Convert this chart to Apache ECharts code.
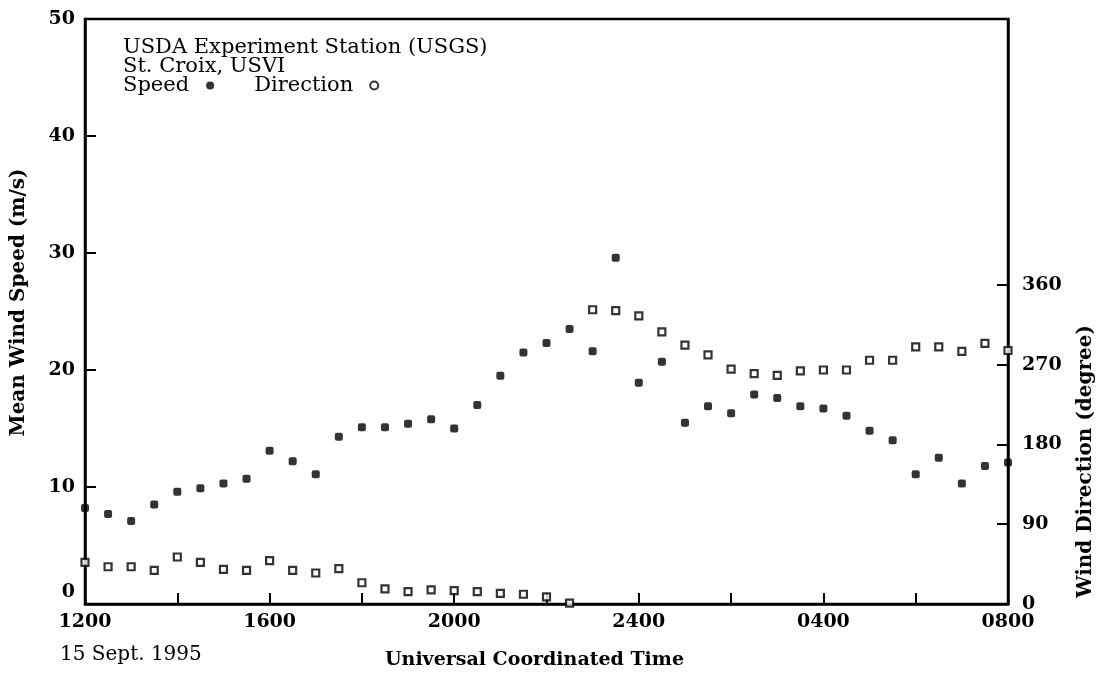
<!DOCTYPE html>
<html>
<head>
<meta charset="utf-8">
<script src="https://cdn.jsdelivr.net/npm/echarts@6/dist/echarts.min.js"></script>
<style>html,body{margin:0;padding:0;background:#fff}#c{width:1105px;height:677px}</style>
</head>
<body>
<div id="c"></div>
<script>
// Hours after 1200 UTC, 15 Sept. 1995 (half-hourly)
const hours = [0,0.5,1,1.5,2,2.5,3,3.5,4,4.5,5,5.5,6,6.5,7,7.5,8,8.5,9,9.5,10,10.5,11,11.5,12,12.5,13,13.5,14,14.5,15,15.5,16,16.5,17,17.5,18,18.5,19,19.5,20];
// Mean wind speed (m/s)
const speed = [8.2,7.7,7.1,8.5,9.6,9.9,10.3,10.7,13.1,12.2,11.1,14.3,15.1,
               15.1,15.4,15.8,15.0,17.0,19.5,21.5,22.3,23.5,21.6,29.6,18.9,20.7,15.5,16.9,16.3,
               17.9,17.6,16.9,16.7,16.1,14.8,14.0,11.1,12.5,10.3,11.8,12.1];
// Wind direction (degree)
const direction = [47,42,42,38,53,47,39,38,49,38,35,40,24,
                   17,14,16,15,14,12,11,8,1,332,331,325,307,292,281,265,
                   260,258,263,264,264,275,275,290,290,285,294,286];
// Tick labels
const timeTicks = [0,4,8,12,16,20];
const timeLabels = ["1200","1600","2000","2400","0400","0800"];
const dirTicks = [0,90,180,270,360];

const FONT = 'DejaVu Serif';
const speedData = hours.map((h,i)=>[h,speed[i]]);
const dirData = hours.map((h,i)=>[h,direction[i]]);

const chart = echarts.init(document.getElementById('c'), null, {renderer:'canvas'});
chart.setOption({
  backgroundColor:'#fff',
  animation:false,
  title:{
    text:'USDA Experiment Station (USGS)\nSt. Croix, USVI',
    left:123, top:38, padding:0,
    textStyle:{fontFamily:FONT, fontSize:21, fontWeight:'normal', color:'#000', lineHeight:19}
  },
  legend:{
    left:123, top:75, padding:0, align:'right', itemGap:40,
    itemWidth:8, itemHeight:8,
    textStyle:{fontFamily:FONT, fontSize:21, color:'#000', padding:[0,12,0,0]},
    data:[
      {name:'Speed', icon:'circle', itemStyle:{color:'#000'}},
      {name:'Direction', icon:'circle', itemStyle:{color:'#fff', borderColor:'#000', borderWidth:2}}
    ]
  },
  grid:{left:85, right:97, top:19, bottom:73, show:true, borderColor:'#000', borderWidth:2.5},
  xAxis:{
    type:'value', min:0, max:20, interval:2,
    name:'Universal Coordinated Time', nameLocation:'middle', nameGap:47,
    nameTextStyle:{fontFamily:FONT, fontSize:19, fontWeight:'bold', color:'#000', padding:[0,24,0,0]},
    axisLine:{lineStyle:{color:'#000', width:2.5}},
    axisTick:{inside:true, length:11, lineStyle:{color:'#000', width:2}},
    axisLabel:{customValues:timeTicks, margin:9, fontFamily:FONT, fontSize:19, fontWeight:'bold', color:'#000',
      formatter:v=>timeLabels[timeTicks.indexOf(v)]},
    splitLine:{show:false}
  },
  yAxis:[{
    type:'value', min:0, max:50, interval:10, position:'left',
    name:'Mean Wind Speed (m/s)', nameLocation:'middle', nameGap:56,
    nameTextStyle:{fontFamily:FONT, fontSize:20, fontWeight:'bold', color:'#000', padding:[0,0,0,18]},
    axisLine:{show:true, lineStyle:{color:'#000', width:2.5}},
    axisTick:{show:true, inside:true, length:11, lineStyle:{color:'#000', width:2}},
    axisLabel:{margin:10, fontFamily:FONT, fontSize:19, fontWeight:'bold', color:'#000',
      formatter:v=>v===0?'{z|0}':String(v),
      rich:{z:{fontFamily:FONT, fontSize:19, fontWeight:'bold', color:'#000', padding:[0,0,24,0]}}},
    splitLine:{show:false}
  },{
    type:'value', min:0, max:660, interval:90, position:'right',
    name:'Wind Direction (degree)', nameLocation:'middle', nameGap:68,
    nameTextStyle:{fontFamily:FONT, fontSize:20, fontWeight:'bold', color:'#000', padding:[0,300,0,0]},
    axisLine:{show:true, lineStyle:{color:'#000', width:2.5}},
    axisTick:{show:true, inside:true, length:11, customValues:dirTicks, lineStyle:{color:'#000', width:2}},
    axisLabel:{customValues:dirTicks, margin:14, fontFamily:FONT, fontSize:19, fontWeight:'bold', color:'#000'},
    splitLine:{show:false}
  }],
  graphic:[{
    type:'text', left:60, top:645,
    style:{text:'15 Sept. 1995', fontFamily:FONT, fontSize:20, fill:'#000'}
  }],
  series:[{
    name:'Speed', type:'scatter', yAxisIndex:0, data:speedData,
    symbol:'roundRect', symbolSize:8, itemStyle:{color:'#000'}
  },{
    name:'Direction', type:'scatter', yAxisIndex:1, data:dirData,
    symbol:'rect', symbolSize:7, itemStyle:{color:'#fff', borderColor:'#000', borderWidth:2.2}
  }]
});
</script>
</body>
</html>
